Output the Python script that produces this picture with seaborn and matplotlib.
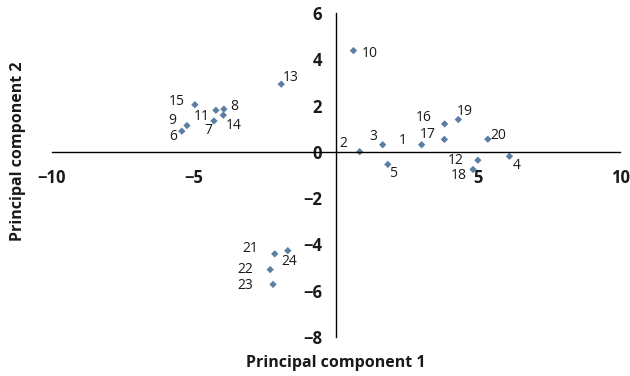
import pandas as pd
import seaborn as sns
import matplotlib.pyplot as plt

# PCA scores
labels = ['1', '2', '3', '4', '5', '6', '7', '8', '9', '10', '11', '12',
          '13', '14', '15', '16', '17', '18', '19', '20', '21', '22', '23', '24']
pc1 = [3.01, 0.83, 1.64, 6.10, 1.82, -5.43, -4.30, -3.95, -5.25, 0.61, -4.23, 4.99,
       -1.93, -3.97, -4.97, 3.82, 3.81, 4.82, 4.30, 5.34, -2.16, -2.32, -2.22, -1.70]
pc2 = [0.31, 0.01, 0.31, -0.19, -0.54, 0.90, 1.34, 1.85, 1.14, 4.38, 1.80, -0.36,
       2.93, 1.59, 2.04, 1.21, 0.54, -0.76, 1.40, 0.55, -4.41, -5.09, -5.73, -4.27]

x_ticks = [-10, -5, 5, 10]
y_ticks = [-8, -6, -4, -2, 0, 2, 4, 6]

# where each number label sits relative to its marker (pixels, right / up)
label_offsets = {
    '1': (-19, 4), '2': (-16, 8), '3': (-9, 8), '4': (7, -9), '5': (5, -9),
    '6': (-9, -5), '7': (-6, -10), '8': (10, 3), '9': (-15, 5), '10': (16, -3),
    '11': (-14, -6), '12': (-22, 0), '13': (9, 7), '14': (10, -10), '15': (-18, 3),
    '16': (-21, 6), '17': (-17, 5), '18': (-14, -6), '19': (7, 8), '20': (10, 4),
    '21': (-24, 5), '22': (-25, 0), '23': (-28, -1), '24': (1, -11),
}

df = pd.DataFrame({'label': labels, 'pc1': pc1, 'pc2': pc2})

sns.set_style('white')
plt.rcParams['font.family'] = ['Open Sans', 'DejaVu Sans']

fig = plt.figure(figsize=(6.3, 3.76), dpi=100)
ax = fig.add_axes([0.0825, 0.104, 0.902, 0.861])

sns.scatterplot(data=df, x='pc1', y='pc2', marker='D', s=14,
                color='#5B7FA3', edgecolor='none', ax=ax)

for _, row in df.iterrows():
    dx, dy = label_offsets[row['label']]
    ax.annotate(row['label'], (row['pc1'], row['pc2']), xytext=(dx, dy),
                textcoords='offset pixels', ha='center', va='center',
                fontsize=10, color='#1a1a1a')

ax.set_xlim(-10, 10)
ax.set_ylim(-8, 6)
ax.set_xticks(x_ticks)
ax.set_yticks(y_ticks)
ax.spines['left'].set_position('zero')
ax.spines['bottom'].set_position('zero')
ax.spines['right'].set_visible(False)
ax.spines['top'].set_visible(False)
for side in ['left', 'bottom']:
    ax.spines[side].set_color('black')
    ax.spines[side].set_linewidth(1.0)
ax.tick_params(axis='x', length=0, pad=12, labelsize=12)
ax.tick_params(axis='y', length=0, pad=10, labelsize=12)
for t in ax.get_xticklabels() + ax.get_yticklabels():
    t.set_fontweight('bold')
    t.set_color('#1a1a1a')
ax.set_xlabel('')
ax.set_ylabel('')

fig.text(336 / 630, 1 - 363 / 376, 'Principal component 1', ha='center', va='center',
         fontsize=11.5, fontweight='bold', color='#1a1a1a')
fig.text(18 / 630, 1 - 151 / 376, 'Principal component 2', ha='center', va='center',
         rotation=90, fontsize=11.5, fontweight='bold', color='#1a1a1a')

fig.savefig('out.png', dpi=100)
plt.close(fig)
